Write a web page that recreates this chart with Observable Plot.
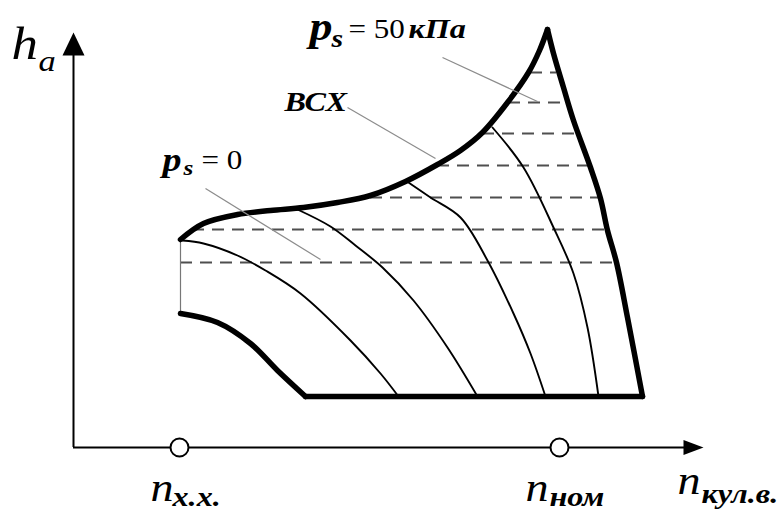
<!DOCTYPE html>
<html>
<head>
<meta charset="utf-8">
<script src="https://cdn.jsdelivr.net/npm/d3@7"></script>
<script src="https://cdn.jsdelivr.net/npm/@observablehq/plot@0.6"></script>
<style>
  html, body { margin: 0; padding: 0; background: #fff; }
  #chart svg { display: block; }
</style>
</head>
<body>
<div id="chart"></div>
<script>
// Altitude–speed characteristic of a supercharged engine:
// x = crankshaft speed n, h = altitude h_a (schematic units, origin at the axes' corner).

// Thick outline of the working region
const upperEdge = [[107,208],[130,224],[164,233],[197,237],[230,240],[264,245],[297,252],[332,266],[364,283],[387,297],[409,315],[434,345],[455,375],[466,397],[474,418]];
const rightEdge = [[474,418],[480,394],[490,360],[500,327],[517,280],[527,249],[534,217],[543,185],[554,130],[569,51]];
const bottomEdge = [[569,51],[232,51]];
const lowerLeftEdge = [[232,51],[204,77],[177,104],[144,125],[107,134]];
const leftEdge = [[107,134],[107,208]];

// Constant boost-pressure curves p_s (from p_s = 0 up to 50 kPa)
const psCurves = [
  [[109,207],[130,204],[164,192],[192,177],[227,154],[277,107],[307,74],[325,51]],
  [[224,238],[257,221],[282,202],[309,180],[340,147],[374,100],[404,51]],
  [[335,265],[357,250],[387,230],[414,187],[440,134],[457,94],[472,51]],
  [[419,320],[450,280],[480,220],[500,174],[514,120],[525,51]]
];

// Dashed altitude levels: h, left end, right end
const levelH  = [375, 345, 314, 282, 250, 218, 185];
const levelX1 = [457, 435, 409, 364, 297, 119, 107];
const levelX2 = [483, 497, 507, 517, 527, 534, 540];

// Leader lines from the labels to the curves
const leaders = [
  {x1: 369, y1: 390, x2: 464, y2: 346},  // p_s = 50 kPa
  {x1: 274, y1: 340, x2: 362, y2: 289},  // ВСХ
  {x1: 132, y1: 259, x2: 247, y2: 188}   // p_s = 0
];

// Axes
const xAxisEnd = 630;
const yAxisEnd = 415;
const speedMarks = [106, 486];  // n_х.х., n_ном

// Labels: text, x, baseline h, font size
const italicLabels = [
  {t: "h", x: -62, y: 389, s: 46},
  {t: "a", x: -35, y: 377, s: 30},
  {t: "n", x: 77,  y: -53, s: 40},
  {t: "n", x: 452, y: -53, s: 40},
  {t: "n", x: 604, y: -46, s: 40}
];
const boldItalicLabels = [
  {t: "p",      x: 89,  y: 277, s: 33},
  {t: "s",      x: 110, y: 273, s: 22},
  {t: "p",      x: 236, y: 408, s: 40},
  {t: "s",      x: 258, y: 401, s: 26},
  {t: "кПа",    x: 335, y: 410, s: 28},
  {t: "ВСХ",    x: 211, y: 337, s: 28},
  {t: "х.х.",   x: 99,  y: -58, s: 28},
  {t: "ном",    x: 476, y: -58, s: 28},
  {t: "кул.в.", x: 628, y: -55, s: 28}
];
const uprightLabels = [
  {t: "= 0",  x: 128, y: 279, s: 27},
  {t: "= 50", x: 275, y: 410, s: 27}
];

const toRows = (pts, id) => pts.map(([x, h]) => ({x, h, id}));
const outlineCurved = [
  ...toRows(upperEdge, "upper"),
  ...toRows(rightEdge, "right"),
  ...toRows(lowerLeftEdge, "lowerLeft")
];
const outlineStraight = toRows(bottomEdge, "bottom");
const curveRows = psCurves.flatMap((c, i) => toRows(c, "ps" + i));
const levels = levelH.map((h, i) => ({h, x1: levelX1[i], x2: levelX2[i]}));

// Filled arrowheads, tip at the anchor point
const arrowUp = {draw(ctx) { ctx.moveTo(0, 0); ctx.lineTo(11, 23); ctx.lineTo(-11, 23); ctx.closePath(); }};
const arrowRight = {draw(ctx) { ctx.moveTo(0, 0); ctx.lineTo(-20, -7.5); ctx.lineTo(-20, 7.5); ctx.closePath(); }};

const font = "'Liberation Serif', 'Times New Roman', serif";
const textOpts = (weight, style) => ({
  x: "x", y: "y", text: "t", fontSize: "s",
  textAnchor: "start", lineAnchor: "bottom",
  fontFamily: font, fontWeight: weight, fontStyle: style, fill: "#000"
});

const chart = Plot.plot({
  width: 782,
  height: 513,
  margin: 0,
  x: {domain: [-73, 709], axis: null},
  y: {domain: [-66, 447], axis: null},
  style: {background: "#fff", overflow: "visible"},
  marks: [
    Plot.ruleY(levels, {y: "h", x1: "x1", x2: "x2", stroke: "#4f4f4f", strokeWidth: 1.8, strokeDasharray: "12,8"}),
    Plot.line(toRows(leftEdge, "left"), {x: "x", y: "h", stroke: "#777", strokeWidth: 1.2}),
    Plot.line(curveRows, {x: "x", y: "h", z: "id", curve: "catmull-rom", stroke: "#000", strokeWidth: 1.9}),
    Plot.line(outlineCurved, {x: "x", y: "h", z: "id", curve: "catmull-rom", stroke: "#000", strokeWidth: 5.5, strokeLinecap: "round"}),
    Plot.line(outlineStraight, {x: "x", y: "h", stroke: "#000", strokeWidth: 5.5, strokeLinecap: "round"}),
    Plot.link(leaders, {x1: "x1", y1: "y1", x2: "x2", y2: "y2", stroke: "#8c8c8c", strokeWidth: 1.2}),
    Plot.ruleX([0], {y1: 0, y2: yAxisEnd - 10, stroke: "#000", strokeWidth: 2}),
    Plot.ruleY([0], {x1: 0, x2: xAxisEnd - 10, stroke: "#000", strokeWidth: 2}),
    Plot.dot([{x: 0, h: yAxisEnd}], {x: "x", y: "h", symbol: arrowUp, fill: "#000", stroke: null}),
    Plot.dot([{x: xAxisEnd, h: 0}], {x: "x", y: "h", symbol: arrowRight, fill: "#000", stroke: null}),
    Plot.dot(speedMarks, {x: d => d, y: 0, r: 9, fill: "#fff", stroke: "#000", strokeWidth: 2}),
    Plot.text(italicLabels, textOpts("normal", "italic")),
    Plot.text(boldItalicLabels, textOpts("bold", "italic")),
    Plot.text(uprightLabels, textOpts("normal", "normal"))
  ]
});

// The lettering of this figure is set slightly wide
chart.querySelectorAll("text").forEach(t => {
  const tr = t.getAttribute("transform");
  if (tr) t.setAttribute("transform", tr + " scale(1.15,1)");
});

document.getElementById("chart").append(chart);
</script>
</body>
</html>
